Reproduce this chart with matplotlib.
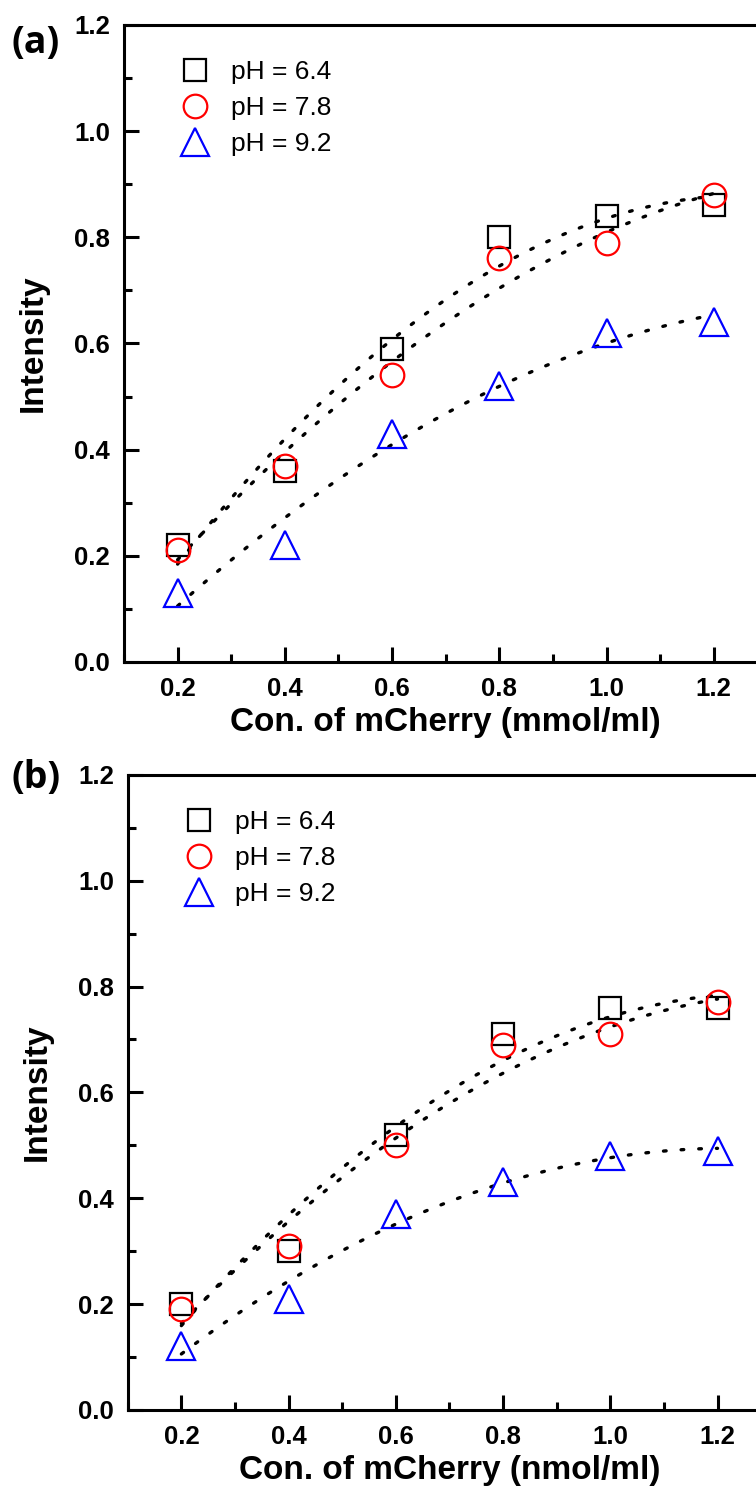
import numpy as np
import matplotlib
matplotlib.use("Agg")
import matplotlib.pyplot as plt
from matplotlib.ticker import MultipleLocator

# concentrations (x)
conc = [0.2, 0.4, 0.6, 0.8, 1.0, 1.2]

# panel (a) - mmol/ml
a_ph64 = [0.22, 0.36, 0.59, 0.80, 0.84, 0.86]
a_ph78 = [0.21, 0.37, 0.54, 0.76, 0.79, 0.88]
a_ph92 = [0.13, 0.22, 0.43, 0.52, 0.62, 0.64]

# panel (b) - nmol/ml
b_ph64 = [0.20, 0.30, 0.52, 0.71, 0.76, 0.76]
b_ph78 = [0.19, 0.31, 0.50, 0.69, 0.71, 0.77]
b_ph92 = [0.12, 0.21, 0.37, 0.43, 0.48, 0.49]

labels = ["pH = 6.4", "pH = 7.8", "pH = 9.2"]
markers = ["s", "o", "^"]
colors = ["black", "red", "blue"]
msizes = [16, 17, 20]

fam = ["Liberation Sans", "DejaVu Sans"]
plt.rcParams["font.family"] = fam

fig = plt.figure(figsize=(7.56, 15.02), dpi=100)
ax_a = fig.add_axes([0.164, 0.5593, 0.851, 0.4241])
ax_b = fig.add_axes([0.169, 0.0613, 0.851, 0.4228])

panels = [
    (ax_a, [a_ph64, a_ph78, a_ph92], "Con. of mCherry (mmol/ml)", "(a)", 43),
    (ax_b, [b_ph64, b_ph78, b_ph92], "Con. of mCherry (nmol/ml)", "(b)", 778),
]

for ax, series, xlabel, tag, tag_y in panels:
    xs = np.array(conc)
    xfit = np.linspace(0.2, 1.2, 100)
    # quadratic fit curves (dotted)
    for ys in series:
        p = np.polyfit(xs, ys, 2)
        ax.plot(xfit, np.polyval(p, xfit), color="black",
                linestyle=(0, (0.8, 4.5)), linewidth=2.4,
                dash_capstyle="round", zorder=3)
    for ys, m, c, lab, ms in zip(series, markers, colors, labels, msizes):
        ax.plot(xs, ys, linestyle="none", marker=m, markersize=ms,
                markerfacecolor="none", markeredgecolor=c,
                markeredgewidth=1.6, label=lab, zorder=4)

    ax.set_xlim(0.1, 1.3)
    ax.set_ylim(0.0, 1.2)
    ax.xaxis.set_minor_locator(MultipleLocator(0.1))
    ax.yaxis.set_major_locator(MultipleLocator(0.2))
    ax.yaxis.set_minor_locator(MultipleLocator(0.1))
    ax.set_xticks(conc)
    ax.set_xticklabels([f"{v:.1f}" for v in conc], fontweight="bold")
    yt = [0.0, 0.2, 0.4, 0.6, 0.8, 1.0, 1.2]
    ax.set_yticks(yt)
    ax.set_yticklabels([f"{v:.1f}" for v in yt], fontweight="bold")
    ax.tick_params(which="major", direction="in", length=11, width=2.2,
                   labelsize=18.5)
    ax.tick_params(axis="x", pad=11)
    ax.tick_params(axis="y", pad=10)
    ax.tick_params(which="minor", direction="in", length=6, width=2.2)
    ax.tick_params(top=False, right=False, which="both")
    for s in ax.spines.values():
        s.set_linewidth(2.2)

    ax.set_xlabel(xlabel, fontsize=24, fontweight="bold", labelpad=4)
    ax.set_ylabel("Intensity", fontsize=24, fontweight="bold", labelpad=18)

    ax.legend(loc="upper left", bbox_to_anchor=(0.07, 0.961), frameon=False,
              prop={"size": 19},
              handletextpad=0.75, labelspacing=0.45, handlelength=1.2,
              borderaxespad=0)

    fig.text(0.015, 1 - tag_y / 1502, tag, fontsize=27, fontweight="bold",
             family=["Open Sans", "DejaVu Sans"], va="center", ha="left")

fig.savefig("out.png", dpi=100)
